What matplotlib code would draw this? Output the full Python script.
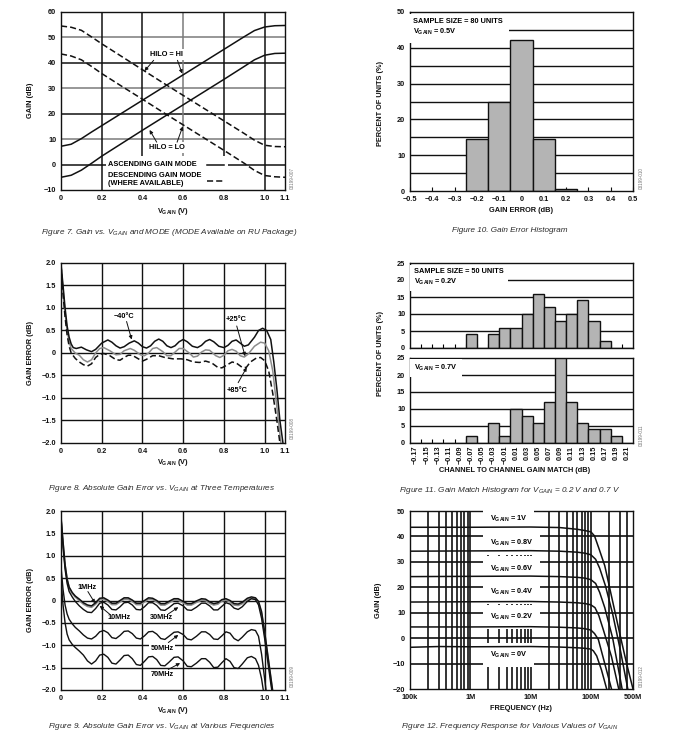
import matplotlib
matplotlib.use('Agg')
import matplotlib.pyplot as plt
from matplotlib.patches import Rectangle

plt.rcParams['font.family'] = ['Liberation Sans', 'DejaVu Sans']
plt.rcParams['font.weight'] = 'bold'
plt.rcParams['mathtext.fontset'] = 'custom'
plt.rcParams['mathtext.rm'] = 'Liberation Sans:bold'
plt.rcParams['mathtext.it'] = 'Liberation Sans:italic:normal'
plt.rcParams['mathtext.bf'] = 'Liberation Sans:bold'
plt.rcParams['axes.linewidth'] = 1.0

# ---------------- data ----------------
# Figure 7: gain vs VGAIN
v7 = [0, 0.05, 0.1, 0.15, 0.2, 0.3, 0.4, 0.5, 0.6, 0.7, 0.8, 0.9, 0.95, 1.0, 1.05, 1.1]
asc_hi = [7.2, 8.0, 10.2, 12.8, 15.3, 20.3, 25.3, 30.3, 35.3, 40.3, 45.3, 50.3, 52.7, 54.1, 54.6, 54.7]
asc_lo = [-5.0, -4.2, -2.2, 0.5, 3.3, 8.4, 13.5, 18.5, 23.5, 28.5, 33.5, 38.6, 41.2, 43.0, 43.7, 43.8]
desc_hi = [54.5, 54.0, 52.8, 50.2, 47.5, 42.4, 37.3, 32.2, 27.2, 22.2, 17.2, 12.2, 9.6, 7.6, 7.1, 7.0]
desc_lo = [43.5, 42.7, 41.2, 38.6, 35.8, 30.7, 25.7, 20.6, 15.6, 10.6, 5.6, 0.5, -2.3, -4.3, -4.8, -5.0]

# Figure 10: gain error histogram
err_bins = [-0.2, -0.1, 0.0, 0.1, 0.2]
err_pct = [14.4, 25.0, 42.2, 14.4, 0.6]

# Figure 8: gain error at three temperatures
m40_x = [0, 0.01, 0.02, 0.03, 0.04, 0.05, 0.06, 0.075, 0.1, 0.125, 0.15, 0.17, 0.2, 0.23, 0.25, 0.27,
         0.29, 0.31, 0.335, 0.36, 0.38, 0.4, 0.42, 0.44, 0.46, 0.48, 0.5, 0.52, 0.54, 0.56, 0.58, 0.6,
         0.62, 0.645, 0.67, 0.69, 0.71, 0.73, 0.75, 0.775, 0.8, 0.82, 0.84, 0.86, 0.88, 0.9, 0.92,
         0.95, 0.97, 0.99, 1.01, 1.03, 1.045, 1.06, 1.075, 1.09]
m40_y = [1.98, 1.5, 1.0, 0.6, 0.35, 0.2, 0.12, 0.1, 0.13, 0.07, 0.03, 0.08, 0.22, 0.29, 0.24, 0.16,
         0.11, 0.14, 0.22, 0.27, 0.22, 0.14, 0.11, 0.16, 0.26, 0.31, 0.26, 0.16, 0.12, 0.16, 0.25, 0.3,
         0.25, 0.15, 0.12, 0.17, 0.26, 0.3, 0.25, 0.15, 0.12, 0.17, 0.26, 0.29, 0.22, 0.15, 0.18,
         0.35, 0.5, 0.55, 0.5, 0.3, -0.2, -0.8, -1.5, -2.0]
p25_x = [0, 0.01, 0.02, 0.03, 0.04, 0.05, 0.07, 0.09, 0.11, 0.13, 0.15, 0.17, 0.19, 0.21, 0.24, 0.27,
         0.29, 0.31, 0.34, 0.36, 0.39, 0.41, 0.43, 0.45, 0.47, 0.5, 0.52, 0.54, 0.56, 0.58, 0.6, 0.63,
         0.65, 0.67, 0.69, 0.71, 0.73, 0.76, 0.78, 0.8, 0.82, 0.84, 0.86, 0.88, 0.9, 0.92, 0.95, 0.98,
         1.0, 1.02, 1.04, 1.055, 1.07, 1.08]
p25_y = [1.95, 1.4, 0.9, 0.5, 0.25, 0.1, 0.0, -0.05, -0.15, -0.2, -0.15, 0.0, 0.1, 0.12, 0.05, -0.04,
         -0.03, 0.05, 0.1, 0.06, -0.04, -0.06, 0.0, 0.1, 0.12, 0.03, -0.06, -0.06, 0.02, 0.1, 0.1, 0.0,
         -0.09, -0.07, 0.02, 0.07, 0.06, -0.06, -0.1, -0.05, 0.05, 0.08, 0.04, -0.06, -0.09, -0.02, 0.15, 0.24,
         0.22, 0.05, -0.4, -1.0, -1.6, -2.0]
p85_x = [0, 0.01, 0.02, 0.03, 0.04, 0.05, 0.07, 0.09, 0.11, 0.13, 0.15, 0.17, 0.19, 0.21, 0.24, 0.27,
         0.29, 0.31, 0.33, 0.35, 0.38, 0.4, 0.42, 0.45, 0.48, 0.51, 0.55, 0.59, 0.62, 0.65, 0.68, 0.71,
         0.74, 0.77, 0.79, 0.81, 0.84, 0.86, 0.89, 0.91, 0.93, 0.96, 0.98, 1.0, 1.02, 1.04, 1.06, 1.075]
p85_y = [1.95, 1.3, 0.8, 0.4, 0.15, 0.0, -0.12, -0.2, -0.26, -0.29, -0.24, -0.1, -0.03, -0.01, -0.06, -0.15,
         -0.16, -0.1, -0.05, -0.05, -0.13, -0.18, -0.14, -0.06, -0.06, -0.1, -0.13, -0.13, -0.15, -0.2, -0.21, -0.18,
         -0.22, -0.32, -0.33, -0.28, -0.2, -0.22, -0.32, -0.32, -0.2, -0.11, -0.1, -0.17, -0.4, -0.9, -1.5, -2.0]

# Figure 11: gain match histogram
match_bins = [-0.17, -0.15, -0.13, -0.11, -0.09, -0.07, -0.05, -0.03, -0.01, 0.01,
              0.03, 0.05, 0.07, 0.09, 0.11, 0.13, 0.15, 0.17, 0.19, 0.21]
match_labels = ['\u22120.17', '\u22120.15', '\u22120.13', '\u22120.11', '\u22120.09', '\u22120.07',
                '\u22120.05', '\u22120.03', '\u22120.01', '0.01', '0.03', '0.05', '0.07', '0.09',
                '0.11', '0.13', '0.15', '0.17', '0.19', '0.21']
match_02 = [0, 0, 0, 0, 0, 4, 0, 4, 6, 6, 10, 16, 12, 8, 10, 14, 8, 2, 0, 0]
match_07 = [0, 0, 0, 0, 0, 2, 0, 6, 2, 10, 8, 6, 12, 26, 12, 6, 4, 4, 2, 0]

# Figure 9: gain error at various frequencies
v9 = [0, 0.01, 0.02, 0.03, 0.04, 0.055, 0.07, 0.09, 0.11, 0.13, 0.15, 0.17, 0.19, 0.21, 0.23, 0.25,
      0.27, 0.29, 0.31, 0.33, 0.35, 0.37, 0.39, 0.41, 0.43, 0.45, 0.47, 0.49, 0.51, 0.53, 0.555, 0.575,
      0.6, 0.62, 0.64, 0.665, 0.69, 0.71, 0.73, 0.75, 0.77, 0.79, 0.81, 0.83, 0.85, 0.87, 0.89, 0.915,
      0.935, 0.955, 0.97, 0.985, 1.0, 1.015, 1.03, 1.045]
f1m = [1.85, 1.3, 0.8, 0.48, 0.3, 0.18, 0.1, 0.03, -0.05, -0.1, -0.12, -0.05, 0.05, 0.06, 0.01, -0.06,
       -0.06, 0.0, 0.06, 0.06, 0.01, -0.06, -0.06, 0.0, 0.06, 0.05, 0.0, -0.07, -0.07, -0.02, 0.04, 0.04,
       -0.02, -0.07, -0.07, -0.01, 0.04, 0.03, -0.03, -0.07, -0.05, 0.02, 0.04, 0.0, -0.07, -0.08, -0.04, 0.05,
       0.08, 0.06, -0.02, -0.25, -0.7, -1.2, -1.7, -2.2]
f10m = [1.85, 1.28, 0.78, 0.46, 0.28, 0.16, 0.08, 0.0, -0.08, -0.13, -0.15, -0.08, 0.02, 0.03, -0.02, -0.09,
        -0.09, -0.03, 0.03, 0.03, -0.02, -0.09, -0.09, -0.03, 0.03, 0.02, -0.03, -0.1, -0.1, -0.05, 0.01, 0.01,
        -0.05, -0.1, -0.1, -0.04, 0.01, 0.0, -0.06, -0.1, -0.08, -0.01, 0.01, -0.03, -0.1, -0.11, -0.07, 0.02,
        0.05, 0.03, -0.05, -0.3, -0.75, -1.25, -1.75, -2.25]
f30m = [1.85, 1.2, 0.7, 0.38, 0.2, 0.08, -0.02, -0.12, -0.2, -0.26, -0.27, -0.18, -0.06, -0.04, -0.1, -0.2,
        -0.21, -0.14, -0.05, -0.04, -0.1, -0.2, -0.21, -0.14, -0.05, -0.05, -0.11, -0.21, -0.22, -0.16, -0.07, -0.06,
        -0.12, -0.21, -0.22, -0.15, -0.06, -0.06, -0.12, -0.21, -0.21, -0.13, -0.05, -0.08, -0.17, -0.2, -0.14, -0.02,
        0.04, 0.02, -0.1, -0.4, -0.85, -1.35, -1.85, -2.3]
f50m = [0.75, 0.25, -0.1, -0.3, -0.42, -0.52, -0.6, -0.68, -0.77, -0.84, -0.86, -0.8, -0.7, -0.67, -0.72, -0.83,
        -0.85, -0.78, -0.69, -0.68, -0.74, -0.84, -0.86, -0.79, -0.7, -0.69, -0.75, -0.85, -0.87, -0.8, -0.71, -0.7,
        -0.76, -0.86, -0.88, -0.8, -0.7, -0.7, -0.76, -0.86, -0.87, -0.79, -0.7, -0.73, -0.85, -0.9, -0.82, -0.7,
        -0.65, -0.67, -0.8, -1.2, -1.75, -2.3, -2.6, -2.9]
f70m = [0.5, -0.1, -0.5, -0.75, -0.88, -0.98, -1.05, -1.13, -1.22, -1.35, -1.42, -1.35, -1.22, -1.2, -1.27, -1.4,
        -1.42, -1.33, -1.23, -1.22, -1.3, -1.43, -1.45, -1.36, -1.26, -1.25, -1.32, -1.45, -1.46, -1.38, -1.27, -1.26,
        -1.35, -1.47, -1.48, -1.4, -1.3, -1.3, -1.38, -1.5, -1.49, -1.39, -1.3, -1.36, -1.5, -1.52, -1.42, -1.28,
        -1.25, -1.3, -1.45, -1.75, -2.2, -2.6, -3.0, -3.3]

# Figure 12: frequency response
g0_f = [1e5, 3e5, 1e6, 1e7, 3e7, 6e7, 8e7, 1e8, 1.1e8, 1.25e8, 1.5e8, 1.83e8]
g0 = [-3.6, -3.3, -3.4, -3.3, -3.5, -3.8, -4.0, -4.3, -5.0, -7.0, -12.5, -20.0]
g02_f = [1e5, 1e6, 1e7, 3e7, 6e7, 8e7, 1e8, 1.15e8, 1.33e8, 1.7e8, 2.2e8]
g02 = [4.4, 4.4, 4.5, 4.3, 4.0, 3.7, 3.2, 1.8, -0.5, -10.0, -20.0]
g04_f = [1e5, 1e6, 1e7, 3e7, 6e7, 8e7, 1e8, 1.17e8, 1.35e8, 1.6e8, 2.2e8, 2.9e8]
g04 = [14.2, 14.3, 14.4, 14.2, 13.9, 13.6, 13.1, 12.0, 9.0, 3.5, -7.3, -20.0]
g06_f = [1e5, 1e6, 1e7, 3e7, 6e7, 8e7, 1e8, 1.2e8, 1.4e8, 1.7e8, 2.3e8, 3.3e8]
g06 = [24.2, 24.3, 24.4, 24.2, 23.9, 23.6, 23.0, 21.5, 18.0, 12.0, 0.0, -20.0]
g08_f = [1e5, 1e6, 1e7, 3e7, 6e7, 8e7, 1e8, 1.2e8, 1.4e8, 1.75e8, 2.3e8, 3.1e8, 4.1e8]
g08 = [34.2, 34.3, 34.4, 34.2, 33.8, 33.4, 32.8, 31.0, 27.5, 20.5, 9.5, -5.0, -20.0]
g1_f = [1e5, 1e6, 1e7, 3e7, 6e7, 8e7, 1e8, 1.15e8, 1.35e8, 1.7e8, 2.2e8, 3e8, 3.9e8, 5e8]
g1 = [43.6, 43.6, 43.7, 43.5, 42.8, 42.3, 41.8, 40.2, 35.5, 28.5, 16.5, 2.0, -9.8, -20.0]
vg_labels = ['1V', '0.8V', '0.6V', '0.4V', '0.2V', '0V']
vg_label_y = [46.7, 37.6, 27.4, 18.0, 8.2, -6.5]

# ---------------- layout helpers ----------------
W, H = 679, 746
fig = plt.figure(figsize=(W / 100, H / 100), dpi=100)
INK = '#111111'
GRAY = '#7a7a7a'
BAR = '#b4b4b4'
FS = 5.3


def px_axes(l, t, r, b):
    return fig.add_axes([l / W, 1 - b / H, (r - l) / W, (b - t) / H])


def ftext(x, y, s, **kw):
    fig.text(x / W, 1 - y / H, s, **kw)


def base(ax):
    ax.tick_params(labelsize=FS, length=0, pad=3.5, colors=INK)
    for sp in ax.spines.values():
        sp.set_color(INK)


def caption(x, y, s):
    ftext(x, y, s, ha='center', va='center', fontsize=5.9, style='italic',
          weight='normal', color='#2a2a2a')


def axlabel_y(x, y, s):
    ftext(x, y, s, rotation=90, ha='center', va='center', fontsize=FS, color=INK)


def axlabel_x(x, y, s):
    ftext(x, y, s, ha='center', va='center', fontsize=FS, color=INK)


def fig_id(x, y, s):
    ftext(x, y, s, rotation=90, ha='center', va='center', fontsize=3.3,
          weight='normal', color='#777777')


VG = 'V$_{\\mathrm{GAIN}}$'
arrow = dict(arrowstyle='-|>', color=INK, lw=0.7, mutation_scale=5, shrinkA=0, shrinkB=0)

# ---------------- Figure 7 ----------------
ax = px_axes(61, 12, 285, 190)
base(ax)
ax.set_xlim(0, 1.1)
ax.set_ylim(-10, 60)
for y, c in zip([0, 10, 20, 30, 40, 50], [INK, GRAY, INK, GRAY, INK, GRAY]):
    ax.axhline(y, color=c, lw=1.1, zorder=0.5)
for x, c in zip([0.2, 0.4, 0.6, 0.8, 1.0], [INK, INK, GRAY, INK, INK]):
    ax.axvline(x, color=c, lw=1.1, zorder=0.5)
ax.add_patch(Rectangle((0.22, -10), 0.6, 13.2, facecolor='white', edgecolor='none', zorder=1))
ax.plot(v7, asc_hi, color=INK, lw=1.1, zorder=2)
ax.plot(v7, asc_lo, color=INK, lw=1.1, zorder=2)
ax.plot(v7, desc_hi, color=INK, lw=1.1, ls=(0, (4, 2)), zorder=2)
ax.plot(v7, desc_lo, color=INK, lw=1.1, ls=(0, (4, 2)), zorder=2)
ax.set_xticks([0, 0.2, 0.4, 0.6, 0.8, 1.0, 1.1])
ax.set_xticklabels(['0', '0.2', '0.4', '0.6', '0.8', '1.0', '1.1'])
ax.set_yticks([-10, 0, 10, 20, 30, 40, 50, 60])
tb = dict(facecolor='white', edgecolor='none', pad=1.5)
ax.text(0.52, 43.3, 'HILO = HI', ha='center', va='center', fontsize=FS, bbox=tb, zorder=3)
ax.annotate('', xy=(0.41, 36.8), xytext=(0.455, 41.0), arrowprops=arrow, zorder=3)
ax.annotate('', xy=(0.595, 35.8), xytext=(0.572, 41.0), arrowprops=arrow, zorder=3)
ax.text(0.52, 6.6, 'HILO = LO', ha='center', va='center', fontsize=FS, bbox=tb, zorder=3)
ax.annotate('', xy=(0.435, 13.6), xytext=(0.47, 8.8), arrowprops=arrow, zorder=3)
ax.annotate('', xy=(0.598, 15.0), xytext=(0.57, 8.8), arrowprops=arrow, zorder=3)
ax.text(0.229, 0, 'ASCENDING GAIN MODE', ha='left', va='center', fontsize=FS, zorder=3)
ax.text(0.232, -4.3, 'DESCENDING GAIN MODE', ha='left', va='center', fontsize=FS, zorder=3)
ax.text(0.232, -7.4, '(WHERE AVAILABLE)', ha='left', va='center', fontsize=FS, zorder=3)
ax.plot([0.715, 0.8], [0, 0], color=INK, lw=1.1, zorder=3)
ax.plot([0.715, 0.8], [-6.4, -6.4], color=INK, lw=1.1, ls=(0, (4, 2)), zorder=3)
axlabel_y(31, 100, 'GAIN (dB)')
axlabel_x(173, 211, VG + ' (V)')
fig_id(292, 178, '03199-007')
caption(169, 232, 'Figure 7. Gain vs. $V_{\\mathit{GAIN}}$ and MODE (MODE Available on RU Package)')

# ---------------- Figure 10 ----------------
ax = px_axes(410, 12, 633, 191)
base(ax)
ax.set_xlim(-0.5, 0.5)
ax.set_ylim(0, 50)
for y in [5, 10, 15, 20, 25, 30, 35, 40, 45]:
    ax.axhline(y, color=INK, lw=1.0, zorder=0.5)
ax.bar(err_bins, err_pct, width=0.1, color=BAR, edgecolor=INK, lw=1.0, zorder=2)
xt = [-0.5, -0.4, -0.3, -0.2, -0.1, 0, 0.1, 0.2, 0.3, 0.4, 0.5]
ax.set_xticks(xt)
ax.set_xticklabels(['\u22120.5', '\u22120.4', '\u22120.3', '\u22120.2', '\u22120.1', '0',
                    '0.1', '0.2', '0.3', '0.4', '0.5'])
ax.tick_params(axis='x', length=3, direction='in', width=0.8)
ax.set_yticks([0, 10, 20, 30, 40, 50])
ax.text(-0.485, 48.3, 'SAMPLE SIZE = 80 UNITS\n' + VG + ' = 0.5V', ha='left', va='top',
        fontsize=FS, linespacing=1.3, zorder=3,
        bbox=dict(facecolor='white', edgecolor='none', pad=4))
axlabel_y(380, 103, 'PERCENT OF UNITS (%)')
axlabel_x(521, 210, 'GAIN ERROR (dB)')
fig_id(641, 178, '03199-010')
caption(510, 230, 'Figure 10. Gain Error Histogram')

# ---------------- Figure 8 ----------------
ax = px_axes(61, 263, 285, 443)
base(ax)
ax.set_xlim(0, 1.1)
ax.set_ylim(-2, 2)
for y in [-1.5, -1.0, -0.5, 0, 0.5, 1.0, 1.5]:
    ax.axhline(y, color=INK, lw=1.0, zorder=0.5)
for x in [0.2, 0.4, 0.6, 0.8, 1.0]:
    ax.axvline(x, color=INK, lw=1.0, zorder=0.5)
ax.plot(m40_x, m40_y, color=INK, lw=1.1, zorder=3)
ax.plot(p25_x, p25_y, color='#8c8c8c', lw=1.1, zorder=2)
ax.plot(p85_x, p85_y, color=INK, lw=1.1, ls=(0, (4, 2)), zorder=2)
ax.set_xticks([0, 0.2, 0.4, 0.6, 0.8, 1.0, 1.1])
ax.set_xticklabels(['0', '0.2', '0.4', '0.6', '0.8', '1.0', '1.1'])
ax.set_yticks([-2, -1.5, -1, -0.5, 0, 0.5, 1, 1.5, 2])
ax.set_yticklabels(['\u22122.0', '\u22121.5', '\u22121.0', '\u22120.5', '0', '0.5', '1.0', '1.5', '2.0'])
ax.text(0.31, 0.82, '\u221240\u00b0C', ha='center', va='center', fontsize=FS, zorder=4)
ax.annotate('', xy=(0.347, 0.3), xytext=(0.322, 0.7), arrowprops=arrow, zorder=4)
ax.text(0.86, 0.74, '+25\u00b0C', ha='center', va='center', fontsize=FS, zorder=4)
ax.annotate('', xy=(0.904, -0.07), xytext=(0.863, 0.6), arrowprops=arrow, zorder=4)
ax.text(0.865, -0.83, '+85\u00b0C', ha='center', va='center', fontsize=FS, zorder=4)
ax.annotate('', xy=(0.912, -0.32), xytext=(0.87, -0.66), arrowprops=arrow, zorder=4)
axlabel_y(31, 353, 'GAIN ERROR (dB)')
axlabel_x(173, 463, VG + ' (V)')
fig_id(292, 428, '03199-008')
caption(162, 489, 'Figure 8. Absolute Gain Error vs. $V_{\\mathit{GAIN}}$ at Three Temperatures')

# ---------------- Figure 11 ----------------
for (t, b, vals, txt) in [(263, 348, match_02, 'SAMPLE SIZE = 50 UNITS\n' + VG + ' = 0.2V'),
                          (358, 443, match_07, VG + ' = 0.7V')]:
    ax = px_axes(410, t, 633, b)
    base(ax)
    ax.set_xlim(-0.18, 0.22)
    ax.set_ylim(0, 25)
    for y in [5, 10, 15, 20]:
        ax.axhline(y, color=INK, lw=1.0, zorder=0.5)
    ax.bar(match_bins, vals, width=0.02, color=BAR, edgecolor=INK, lw=1.0, zorder=2)
    ax.set_yticks([0, 5, 10, 15, 20, 25])
    ax.set_xticks(match_bins)
    ax.set_xticks([c + 0.01 for c in match_bins[:-1]], minor=True)
    ax.tick_params(axis='x', which='minor', length=3, direction='in', width=0.8)
    ax.text(-0.172, 23.6, txt, ha='left', va='top', fontsize=FS, linespacing=1.3, zorder=3,
            bbox=dict(facecolor='white', edgecolor='none', pad=3))
    if b == 348:
        ax.set_xticklabels([])
    else:
        ax.set_xticklabels(match_labels, rotation=90)
        ax.tick_params(axis='x', which='major', pad=2)
axlabel_y(380, 353, 'PERCENT OF UNITS (%)')
axlabel_x(515, 471, 'CHANNEL TO CHANNEL GAIN MATCH (dB)')
fig_id(641, 435, '03199-011')
caption(510, 491, 'Figure 11. Gain Match Histogram for $V_{\\mathit{GAIN}}$ = 0.2 V and 0.7 V')

# ---------------- Figure 9 ----------------
ax = px_axes(61, 511, 285, 690)
base(ax)
ax.set_xlim(0, 1.1)
ax.set_ylim(-2, 2)
for y in [-1.5, -1.0, -0.5, 0, 0.5, 1.0, 1.5]:
    ax.axhline(y, color=INK, lw=1.0, zorder=0.5)
for x in [0.2, 0.4, 0.6, 0.8, 1.0]:
    ax.axvline(x, color=INK, lw=1.0, zorder=0.5)
ax.plot(v9, f1m, color=INK, lw=1.1, zorder=3)
ax.plot(v9, f10m, color='#8c8c8c', lw=1.3, zorder=2)
ax.plot(v9, f30m, color=INK, lw=1.0, zorder=2)
ax.plot(v9, f50m, color=INK, lw=1.0, zorder=2)
ax.plot(v9, f70m, color=INK, lw=1.0, zorder=2)
ax.set_xticks([0, 0.2, 0.4, 0.6, 0.8, 1.0, 1.1])
ax.set_xticklabels(['0', '0.2', '0.4', '0.6', '0.8', '1.0', '1.1'])
ax.set_yticks([-2, -1.5, -1, -0.5, 0, 0.5, 1, 1.5, 2])
ax.set_yticklabels(['\u22122.0', '\u22121.5', '\u22121.0', '\u22120.5', '0', '0.5', '1.0', '1.5', '2.0'])
lb = dict(facecolor='white', edgecolor='none', pad=1)
ax.text(0.13, 0.29, '1MHz', ha='center', va='center', fontsize=FS, bbox=lb, zorder=4)
ax.annotate('', xy=(0.167, -0.06), xytext=(0.132, 0.2), arrowprops=arrow, zorder=4)
ax.text(0.285, -0.38, '10MHz', ha='center', va='center', fontsize=FS, bbox=lb, zorder=4)
ax.annotate('', xy=(0.19, -0.12), xytext=(0.24, -0.31), arrowprops=arrow, zorder=4)
ax.text(0.495, -0.38, '30MHz', ha='center', va='center', fontsize=FS, bbox=lb, zorder=4)
ax.annotate('', xy=(0.576, -0.15), xytext=(0.527, -0.3), arrowprops=arrow, zorder=4)
ax.text(0.495, -1.07, '50MHz', ha='center', va='center', fontsize=FS, bbox=lb, zorder=4)
ax.annotate('', xy=(0.576, -0.77), xytext=(0.527, -0.94), arrowprops=arrow, zorder=4)
ax.text(0.495, -1.66, '70MHz', ha='center', va='center', fontsize=FS, bbox=lb, zorder=4)
ax.annotate('', xy=(0.585, -1.4), xytext=(0.527, -1.54), arrowprops=arrow, zorder=4)
axlabel_y(31, 600, 'GAIN ERROR (dB)')
axlabel_x(173, 710, VG + ' (V)')
fig_id(292, 676, '03199-009')
caption(162, 727, 'Figure 9. Absolute Gain Error vs. $V_{\\mathit{GAIN}}$ at Various Frequencies')

# ---------------- Figure 12 ----------------
ax = px_axes(410, 511, 633, 689)
base(ax)
ax.set_xscale('log')
ax.set_xlim(1e5, 5e8)
ax.set_ylim(-20, 50)
for y in [-10, 0, 10, 20, 30, 40]:
    ax.axhline(y, color=INK, lw=1.2, zorder=0.5)
for dec in [1e5, 1e6, 1e7, 1e8]:
    for k in range(1, 10):
        if 1e5 < dec * k < 5e8:
            ax.axvline(dec * k, color=INK, lw=1.2, zorder=0.5)
for fx, gy in [(g0_f, g0), (g02_f, g02), (g04_f, g04), (g06_f, g06), (g08_f, g08), (g1_f, g1)]:
    ax.plot(fx, gy, color=INK, lw=1.1, zorder=4)
ax.set_xticks([1e5, 1e6, 1e7, 1e8, 5e8])
ax.set_xticklabels(['100k', '1M', '10M', '100M', '500M'])
ax.set_xticks([], minor=True)
ax.set_yticks([-20, -10, 0, 10, 20, 30, 40, 50])
for lab, y in zip(vg_labels, vg_label_y):
    ax.text(2.1e6, y, VG + ' = ' + lab, ha='left', va='center', fontsize=FS, zorder=3,
            bbox=dict(facecolor='white', edgecolor='none', pad=5))
axlabel_y(379, 600, 'GAIN (dB)')
axlabel_x(521, 709, 'FREQUENCY (Hz)')
fig_id(641, 676, '03199-012')
caption(510, 726, 'Figure 12. Frequency Response for Various Values of $V_{\\mathit{GAIN}}$')

fig.savefig('out.png', dpi=100)
